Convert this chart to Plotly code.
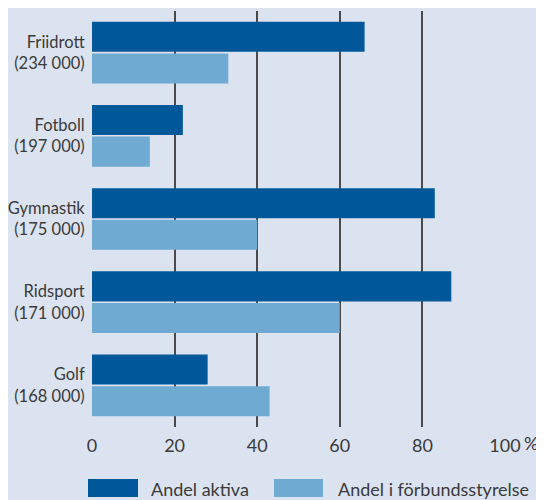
import plotly.graph_objects as go

categories = ["Friidrott<br>(234 000)", "Fotboll<br>(197 000)", "Gymnastik<br>(175 000)",
              "Ridsport<br>(171 000)", "Golf<br>(168 000)"]
series_names = ["Andel aktiva", "Andel i förbundsstyrelse"]
andel_aktiva = [66, 22, 83, 87, 28]
andel_styrelse = [33, 14, 40, 60, 43]
x_tickvals = [0, 20, 40, 60, 80, 100]
x_ticktext = ["0", "20", "40", "60", "80", "100"]
grid_vals = [20, 40, 60, 80, 100]

BG = "#dce3f0"
DARK = "#00589a"
LIGHT = "#6eaad2"
TXT = "#3a3a3a"
FONT = "Lato"
FS = 18

fig = go.Figure()
fig.add_trace(go.Bar(y=categories, x=andel_aktiva, orientation="h", name=series_names[0],
                     marker=dict(color=DARK, line=dict(width=0)), showlegend=False))
fig.add_trace(go.Bar(y=categories, x=andel_styrelse, orientation="h", name=series_names[1],
                     marker=dict(color=LIGHT, line=dict(width=0)), showlegend=False))
# invisible trace on overlay axis for gridlines
fig.add_trace(go.Scatter(x=[0], y=[categories[0]], xaxis="x2", mode="markers",
                         marker=dict(opacity=0), showlegend=False, hoverinfo="skip"))

fig.update_layout(
    width=536, height=492,
    margin=dict(l=84, r=39, t=3, b=73, autoexpand=False),
    paper_bgcolor=BG, plot_bgcolor=BG,
    barmode="group", bargap=0.24, bargroupgap=0.05,
    font=dict(family=FONT, size=FS, color=TXT),
    xaxis=dict(range=[0, 100], tickvals=x_tickvals, ticktext=x_ticktext,
               showgrid=False, zeroline=False, showline=False, automargin=False,
               ticks="outside", ticklen=2, tickcolor=BG,
               tickfont=dict(family=FONT, size=FS, color=TXT), fixedrange=True),
    xaxis2=dict(range=[0, 100], overlaying="x", matches="x", tickvals=grid_vals,
                showgrid=True, gridcolor="#4a4a4a", gridwidth=1.6, zeroline=False,
                showticklabels=False, showline=False, layer="below traces", automargin=False),
    yaxis=dict(range=[4.5, -0.5], showgrid=False, zeroline=False, showline=False,
               automargin=False, ticks="outside", ticklen=3, tickcolor=BG,
               tickfont=dict(family=FONT, size=16.5, color=TXT)),
)

# unit suffix next to the last tick label
fig.add_annotation(x=x_tickvals[-1], y=-0.038, xref="x", yref="paper", text="%",
                   showarrow=False, xanchor="left", yanchor="middle", xshift=17,
                   font=dict(family=FONT, size=FS, color=TXT))

# custom legend (large swatches)
legend_items = [(series_names[0], DARK, -0.0097, 0.1114, 0.138),
                (series_names[1], LIGHT, 0.4407, 0.5593, 0.5908)]
for name, col, x0, x1, tx in legend_items:
    fig.add_shape(type="rect", xref="paper", yref="paper", x0=x0, x1=x1,
                  y0=-0.1683, y1=-0.125, fillcolor=col, line=dict(width=0))
    fig.add_annotation(x=tx, y=-0.149, xref="paper", yref="paper", text=name,
                       showarrow=False, xanchor="left", yanchor="middle",
                       font=dict(family=FONT, size=FS, color=TXT))

fig.write_html("out.html")
